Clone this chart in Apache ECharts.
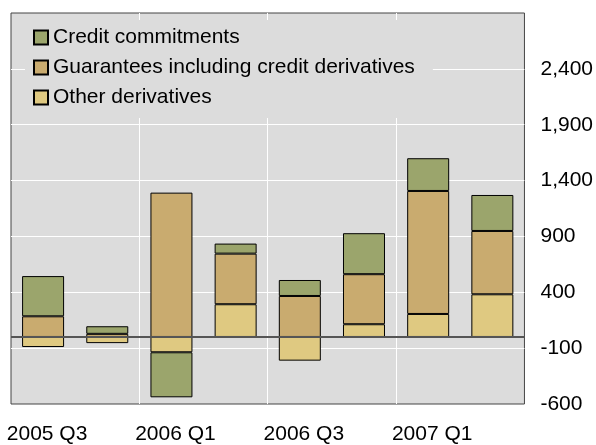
<!DOCTYPE html>
<html>
<head>
<meta charset="utf-8">
<script src="https://cdn.jsdelivr.net/npm/echarts@6/dist/echarts.min.js"></script>
<style>
html,body{margin:0;padding:0;background:#fff;}
#c{width:596px;height:445px;}
</style>
</head>
<body>
<div id="c"></div>
<script>
var categories = ['2005 Q3','2005 Q4','2006 Q1','2006 Q2','2006 Q3','2006 Q4','2007 Q1','2007 Q2'];
var otherDerivatives = [-90, -55, -137, 293, -212, 114, 206, 382];
var guarantees = [185, 28, 1292, 453, 367, 448, 1101, 567];
var creditCommitments = [360, 68, -403, 90, 143, 367, 293, 322];
var seriesNames = ['Credit commitments', 'Guarantees including credit derivatives', 'Other derivatives'];

var FONT = '"Liberation Sans", Arial, sans-serif';
var chart = echarts.init(document.getElementById('c'), null, {renderer: 'canvas'});

function barSeries(name, data, color) {
  return {
    name: name,
    type: 'bar',
    stack: 'total',
    data: data,
    barWidth: 42,
    itemStyle: {color: color, borderColor: '#000', borderWidth: 1},
    emphasis: {disabled: true}
  };
}

var s3 = barSeries(seriesNames[0], creditCommitments, '#9BA56C');
s3.markLine = {
  silent: true,
  symbol: ['none', 'none'],
  label: {show: false},
  lineStyle: {color: '#555', width: 2, type: 'solid'},
  data: [{yAxis: 0}]
};

chart.setOption({
  animation: false,
  textStyle: {fontFamily: FONT},
  grid: {left: 11, right: 71, top: 13, bottom: 41, show: true,
         backgroundColor: '#DCDCDC', borderColor: '#444', borderWidth: 1},
  legend: {
    data: seriesNames,
    orient: 'vertical',
    left: 25, top: 20,
    padding: [7, 18, 10, 8],
    backgroundColor: '#DCDCDC',
    itemWidth: 14, itemHeight: 14,
    itemGap: 9,
    icon: 'rect',
    selectedMode: false,
    textStyle: {fontSize: 21, color: '#000', fontFamily: FONT, lineHeight: 21, padding: [0,0,0,0]}
  },
  xAxis: {
    type: 'category',
    data: categories,
    boundaryGap: true,
    axisLine: {show: false},
    axisTick: {show: false},
    axisLabel: {interval: 1, fontSize: 21, color: '#000', margin: 20, fontFamily: FONT, padding: [0,0,0,8]},
    splitLine: {show: true, interval: 1, showMinLine: false, showMaxLine: false,
                lineStyle: {color: '#fff', width: 1}}
  },
  yAxis: {
    type: 'value',
    position: 'right',
    min: -600, max: 2900, interval: 500,
    axisLine: {show: false},
    axisTick: {show: false},
    axisLabel: {
      fontSize: 21, color: '#000', margin: 16, align: 'left', fontFamily: FONT,
      formatter: function (v) { return v === 2900 ? '' : v.toLocaleString('en-US'); }
    },
    splitLine: {show: true, showMinLine: false, showMaxLine: false,
                lineStyle: {color: '#fff', width: 1}}
  },
  series: [
    barSeries(seriesNames[2], otherDerivatives, '#DFC981'),
    barSeries(seriesNames[1], guarantees, '#C9AB6F'),
    s3
  ]
});
</script>
</body>
</html>
